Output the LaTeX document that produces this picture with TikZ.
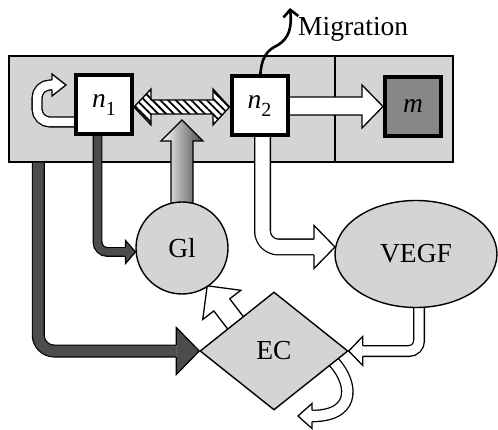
\documentclass[tikz,border=0pt]{standalone}
\usepackage{fontspec}
\setmainfont{Liberation Serif}
\usetikzlibrary{shapes.geometric,patterns.meta,arrows.meta,calc}
\pgfdeclarelayer{back}
\pgfdeclarelayer{mid}
\pgfsetlayers{back,mid,main}
\definecolor{cellgray}{gray}{0.83}
\definecolor{mgray}{gray}{0.53}
\definecolor{darkfill}{gray}{0.3}
\tikzset{
  txt/.style={font=\fontsize{27.5}{28}\selectfont},
  box/.style={draw=black, line width=4pt, fill=white, minimum width=56pt, minimum height=59pt, inner sep=0pt, txt},
  blob/.style={draw=black, line width=1.4pt, fill=cellgray, inner sep=0pt, txt},
  whiteshaft/.style={draw=black, line width=1.3pt, double=white, double distance=#1},
  darkshaft/.style={draw=black, line width=1.2pt, double=darkfill, double distance=#1},
  whitehead/.style={draw=black, line width=1.3pt, fill=white, line join=miter},
  darkhead/.style={draw=black, line width=1.2pt, fill=darkfill, line join=miter},
}
\newcommand{\mysub}[1]{\raisebox{-0.28em}{\fontsize{20}{20}\selectfont\upshape #1}}
% #1 style, #2 tip, #3 rotation, #4 head length, #5 half head width, #6 half shaft width
\newcommand{\ahead}[6]{%
  \draw[#1, shift={(#2)}, rotate=#3] (-#4,-#6) -- (-#4,-#5) -- (0,0) -- (-#4,#5) -- (-#4,#6);}
\begin{document}
\begin{tikzpicture}[x=1pt, y=-1pt]
\useasboundingbox (0,0) rectangle (498,430);

% background cell with divider
\begin{pgfonlayer}{back}
  \node[draw=black, line width=1.5pt, fill=cellgray, minimum width=444pt, minimum height=106pt, inner sep=0pt] (cell) at (231,109) {};
  \coordinate (dv) at (335,109);
  \draw[line width=1.5pt] (dv |- cell.north) -- (dv |- cell.south);
\end{pgfonlayer}

% nodes
\node[box] (n1) at (104,105) {\itshape n\mysub{1}};
\node[box] (n2) at (259.5,106) {\itshape n\mysub{2}};
\node[box, fill=mgray] (m) at (413,106.5) {\itshape m};
\node[blob, circle, minimum size=92pt] (gl) at (182,248) {Gl};
\node[blob, ellipse, minimum width=162pt, minimum height=107pt] (vegf) at (416,254) {VEGF};
\node[blob, diamond, minimum width=148pt, minimum height=118pt] (ec) at (274,351) {EC};
\node[anchor=base west, inner sep=0pt, txt] (mig) at (298,36) {Migration};

\begin{pgfonlayer}{mid}
  % gradient arrow up into the hatched arrow
  \shadedraw[left color=white, right color=black!72, draw=black, line width=1.3pt]
    (182,120) -- (203,141) -- (193,141) -- ($(gl.north)+(11,8)$) -- ($(gl.north)+(-11,8)$) -- (171,141) -- (161,141) -- cycle;

  % hatched double arrow n1 <-> n2
  \draw[line width=1.3pt, line join=miter, preaction={fill=white},
        pattern={Lines[angle=-45,distance=5.5pt,line width=1.8pt]}]
    ($(n1.east)+(0,2)$) -- (151,89) -- (151,100) -- (213,100) -- (213,89) -- ($(n2.west)+(0,1)$)
    -- (213,125) -- (213,114) -- (151,114) -- (151,125) -- cycle;

  % n2 -> m
  \draw[whitehead] ($(n2.east)+(-4,-9)$) -- (362,97) -- (362,85) -- (m.west) -- (362,128) -- (362,115) -- ($(n2.east)+(-4,9)$) -- cycle;

  % n1 self loop
  \draw[whiteshaft=8.5pt, rounded corners=13pt] ($(n1.west)+(6,17)$) -- (37,122) -- (37,85) -- (52,85);
  \coordinate (t0) at (66,85);
  \ahead{whitehead}{t0}{0}{14}{11}{4.9}

  % n1 -> Gl (dark)
  \coordinate (t1) at ($(gl.center)+(-46.5,4)$);
  \draw[darkshaft=7.5pt, rounded corners=10pt] ($(n1.south)+(-6.5,-4)$) |- ($(t1)+(-10,0)$);
  \ahead{darkhead}{t1}{0}{10}{11.5}{4.35}

  % cell -> EC (big dark)
  \draw[darkshaft=10.6pt, rounded corners=16pt] ($(cell.south west)+(30,0)$) |- ($(ec.west)+(-23,0)$);
  \ahead{darkhead}{ec.west}{0}{23}{23.5}{5.9}

  % n2 -> VEGF
  \coordinate (t3) at ($(vegf.west)+(0.7,-7)$);
  \draw[whiteshaft=14.4pt, rounded corners=16pt] ($(n2.south)+(3,-5)$) |- ($(t3)+(-21,0)$);
  \ahead{whitehead}{t3}{0}{21}{21.5}{7.85}

  % VEGF -> EC
  \draw[whiteshaft=9.4pt, rounded corners=10pt] ($(vegf.south)+(3,-8)$) |- ($(ec.east)+(14,0)$);
  \ahead{whitehead}{ec.east}{180}{14}{14.5}{5.35}

  % EC -> Gl
  \coordinate (b5) at ($(ec.west)!0.48!(ec.north)$);
  \draw[whitehead, shift={(b5)}, rotate=127.4]
    (-8,-10) -- (22,-10) -- (22,-24) -- (46,0) -- (22,24) -- (22,10) -- (-8,10) -- cycle;

  % EC self loop
  \coordinate (s6) at ($(ec.east)!0.2!(ec.south)$);
  \coordinate (t6) at (298,416);
  \draw[whiteshaft=10pt] ($(s6)+(-4,-5)$) .. controls (352,378) and (360,416) .. ($(t6)+(14,0)$);
  \ahead{whitehead}{t6}{180}{14}{12.5}{5.65}

  % migration
  \draw[line width=2.6pt, -{Straight Barb[length=7pt,width=15pt]}]
    ($(n2.north)+(0.5,5)$) .. controls (261,55) and (268,50) .. (278,45)
    .. controls (289,38) and (292,28) .. (290,8);
\end{pgfonlayer}
\end{tikzpicture}
\end{document}
